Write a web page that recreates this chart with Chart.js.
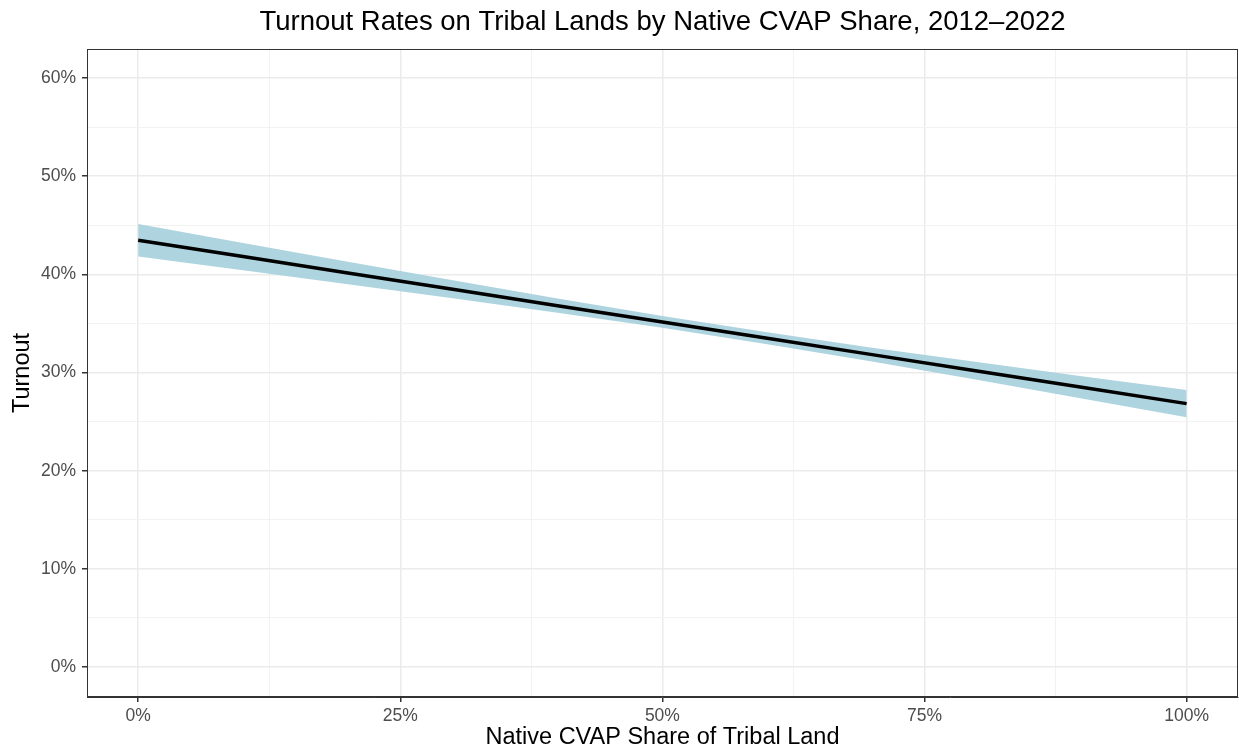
<!DOCTYPE html>
<html>
<head>
<meta charset="utf-8">
<title>Turnout Rates on Tribal Lands</title>
<script src="https://cdn.jsdelivr.net/npm/chart.js@4/dist/chart.umd.min.js"></script>
<style>
  html, body { margin: 0; padding: 0; background: #ffffff; }
  #wrap { width: 1239px; height: 752px; }
</style>
</head>
<body>
<div id="wrap"><canvas id="chart" width="1239" height="752"></canvas></div>
<script>
// Native CVAP share (%) at which the fitted turnout and its confidence band are given
const nativeShare = [0, 10, 20, 30, 40, 50, 60, 70, 80, 90, 100];
// Fitted turnout (%)
const turnoutFit = [43.47, 41.81, 40.14, 38.48, 36.81, 35.15, 33.49, 31.82, 30.16, 28.49, 26.83];
// Confidence band, upper and lower bounds (%)
const bandUpper = [45.12, 43.20, 41.28, 39.39, 37.53, 35.75, 34.09, 32.53, 31.06, 29.62, 28.21];
const bandLower = [41.82, 40.42, 39.00, 37.57, 36.09, 34.55, 32.89, 31.11, 29.26, 27.36, 25.45];

// Axis breaks
const xMajorTicks = [0, 25, 50, 75, 100];
const xMinorTicks = [12.5, 37.5, 62.5, 87.5];
const yMajorTicks = [0, 10, 20, 30, 40, 50, 60];
const yMinorTicks = [5, 15, 25, 35, 45, 55];

const titleText = 'Turnout Rates on Tribal Lands by Native CVAP Share, 2012\u20132022';
const xTitle = 'Native CVAP Share of Tribal Land';
const yTitle = 'Turnout';

const FONT = "'Liberation Sans', Arial, Helvetica, sans-serif";

const toPoints = (ys) => nativeShare.map((x, i) => ({ x: x, y: ys[i] }));

// Panel border on all four sides
const panelBorder = {
  id: 'panelBorder',
  afterDraw(chart) {
    const a = chart.chartArea;
    const ctx = chart.ctx;
    ctx.save();
    ctx.strokeStyle = '#333333';
    ctx.lineWidth = 1;
    ctx.strokeRect(Math.round(a.left) + 0.5, Math.round(a.top) + 0.5,
                   Math.round(a.right - a.left) - 1, Math.round(a.bottom - a.top) - 1);
    ctx.restore();
  }
};

function allTicks(major, minor) {
  return major.concat(minor).sort((a, b) => a - b).map(v => ({ value: v }));
}
function isMajor(list, v) { return list.indexOf(v) !== -1; }

new Chart(document.getElementById('chart'), {
  type: 'line',
  data: {
    datasets: [
      {
        label: 'Fit',
        data: toPoints(turnoutFit),
        borderColor: '#000000',
        borderWidth: 3.5,
        pointRadius: 0,
        fill: false,
        tension: 0
      },
      {
        label: 'Upper',
        data: toPoints(bandUpper),
        borderWidth: 0,
        borderColor: 'rgba(0,0,0,0)',
        backgroundColor: 'rgba(166,208,220,0.92)',
        pointRadius: 0,
        fill: '+1',
        tension: 0
      },
      {
        label: 'Lower',
        data: toPoints(bandLower),
        borderWidth: 0,
        borderColor: 'rgba(0,0,0,0)',
        pointRadius: 0,
        fill: false,
        tension: 0
      }
    ]
  },
  options: {
    responsive: false,
    animation: false,
    layout: { padding: { top: 0, right: 1, bottom: 0, left: 0 } },
    plugins: {
      legend: { display: false },
      tooltip: { enabled: false },
      title: {
        display: true,
        text: titleText,
        fullSize: false,
        color: '#000000',
        font: { family: FONT, size: 27.5, weight: 'normal' },
        padding: { top: 6, bottom: 10 }
      }
    },
    scales: {
      x: {
        type: 'linear',
        min: -4.88,
        max: 104.9,
        afterBuildTicks(scale) { scale.ticks = allTicks(xMajorTicks, xMinorTicks); },
        afterFit(scale) { scale.height = 55; },
        ticks: {
          autoSkip: false,
          maxRotation: 0,
          color: '#4D4D4D',
          font: { family: FONT, size: 17.5 },
          padding: 4,
          callback: (v) => isMajor(xMajorTicks, v) ? v + '%' : ''
        },
        grid: {
          color: (c) => c.tick && isMajor(xMajorTicks, c.tick.value) ? '#EBEBEB' : '#F2F2F2',
          lineWidth: (c) => c.tick && isMajor(xMajorTicks, c.tick.value) ? 1.5 : 1,
          tickColor: (c) => c.tick && isMajor(xMajorTicks, c.tick.value) ? '#333333' : 'rgba(0,0,0,0)',
          tickLength: 5,
          tickWidth: 1.5
        },
        border: { display: true, color: '#333333', width: 1 },
        title: {
          display: true,
          text: xTitle,
          color: '#000000',
          font: { family: FONT, size: 23.5 },
          padding: { top: 0, bottom: 0 }
        }
      },
      y: {
        type: 'linear',
        min: -3.05,
        max: 62.95,
        afterBuildTicks(scale) { scale.ticks = allTicks(yMajorTicks, yMinorTicks); },
        afterFit(scale) { scale.width = 87; },
        ticks: {
          autoSkip: false,
          color: '#4D4D4D',
          font: { family: FONT, size: 17.5 },
          padding: 6,
          callback: (v) => isMajor(yMajorTicks, v) ? v + '%' : ''
        },
        grid: {
          color: (c) => c.tick && isMajor(yMajorTicks, c.tick.value) ? '#EBEBEB' : '#F2F2F2',
          lineWidth: (c) => c.tick && isMajor(yMajorTicks, c.tick.value) ? 1.5 : 1,
          tickColor: (c) => c.tick && isMajor(yMajorTicks, c.tick.value) ? '#333333' : 'rgba(0,0,0,0)',
          tickLength: 5,
          tickWidth: 1.5
        },
        border: { display: true, color: '#333333', width: 1 },
        title: {
          display: true,
          text: yTitle,
          color: '#000000',
          font: { family: FONT, size: 23.5 },
          padding: { top: 8, bottom: 0 }
        }
      }
    }
  },
  plugins: [panelBorder]
});
</script>
</body>
</html>
